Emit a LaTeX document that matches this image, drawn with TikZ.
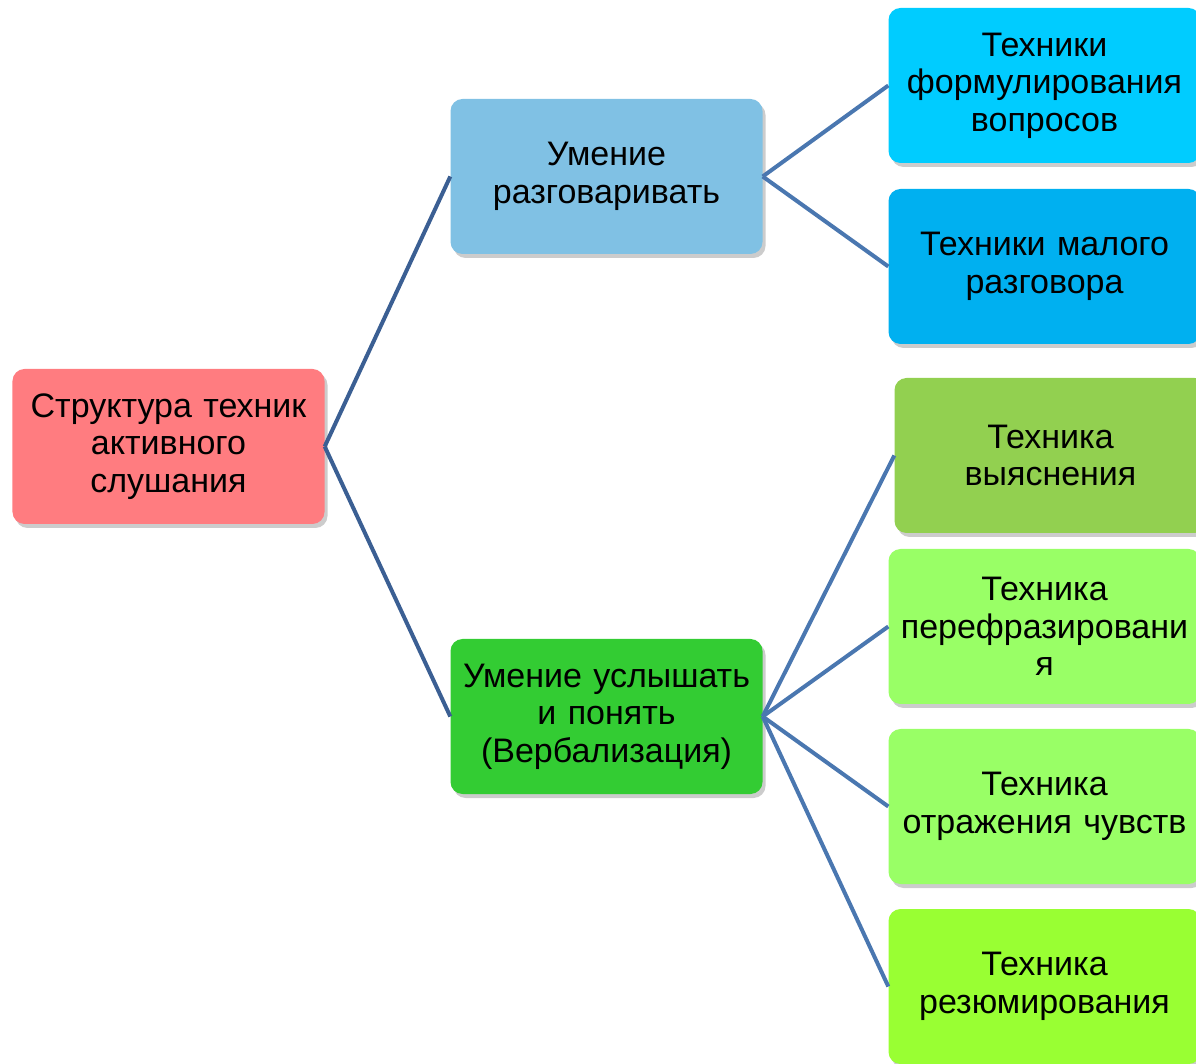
\documentclass[tikz,border=0pt]{standalone}
\usepackage{fontspec}
\setmainfont{Liberation Sans}
\usetikzlibrary{positioning,shadows}
\definecolor{rootred}{HTML}{FF7C80}
\definecolor{talkblue}{HTML}{80C1E4}
\definecolor{heargreen}{HTML}{33CC33}
\definecolor{askcyan}{HTML}{00CCFF}
\definecolor{smallblue}{HTML}{00B0F0}
\definecolor{clarifygreen}{HTML}{92D050}
\definecolor{lightgreen}{HTML}{99FF66}
\definecolor{limegreen}{HTML}{99FF33}
\definecolor{linedark}{HTML}{3B5F93}
\definecolor{linemid}{HTML}{4A77B0}
\tikzset{
    on grid,
    node distance=438pt,
    block/.style = {
        shape=rectangle,
        rounded corners=12pt,
        minimum height=155pt,
        minimum width=312pt,
        text width=304pt,
        align=center,
        font=\fontsize{34}{37.5}\selectfont,
        drop shadow={shadow xshift=3pt, shadow yshift=-4pt, fill=black, opacity=0.2}
    },
    rootlink/.style = {
        draw=linedark,
        line width=4pt
    },
    link/.style = {
        draw=linemid,
        line width=4pt
    },
}
\begin{document}
\begin{tikzpicture}
    \useasboundingbox (-168.5pt,446.5pt) rectangle (1027.5pt,-617.5pt);

    \node[block, fill=rootred] (root) {Структура техник\\активного\\слушания};
    \node[block, fill=talkblue, above right=270pt and 438pt of root] (talk) {Умение\\разговаривать};
    \node[block, fill=heargreen, below right=270pt and 438pt of root] (hear) {Умение услышать\\и понять\\(Вербализация)};

    \node[block, fill=askcyan, above right=91pt and 438pt of talk] (ask) {Техники\\формулирования\\вопросов};
    \node[block, fill=smallblue, below right=90pt and 438pt of talk] (small) {Техники малого\\разговора};

    \node[block, fill=clarifygreen, above right=261pt and 444pt of hear] (clarify) {Техника\\выяснения};
    \node[block, fill=lightgreen, above right=90pt and 438pt of hear] (rephrase) {Техника\\перефразировани\\я};
    \node[block, fill=lightgreen, below right=90pt and 438pt of hear] (feel) {Техника\\отражения чувств};
    \node[block, fill=limegreen, below right=270pt and 438pt of hear] (sum) {Техника\\резюмирования};

    %connect
    \path[rootlink] (root.east) -- (talk.west);
    \path[rootlink] (root.east) -- (hear.west);
    \path[link] (talk.east) -- (ask.west);
    \path[link] (talk.east) -- (small.west);
    \path[link] (hear.east) -- (clarify.west);
    \path[link] (hear.east) -- (rephrase.west);
    \path[link] (hear.east) -- (feel.west);
    \path[link] (hear.east) -- (sum.west);

\end{tikzpicture}
\end{document}
